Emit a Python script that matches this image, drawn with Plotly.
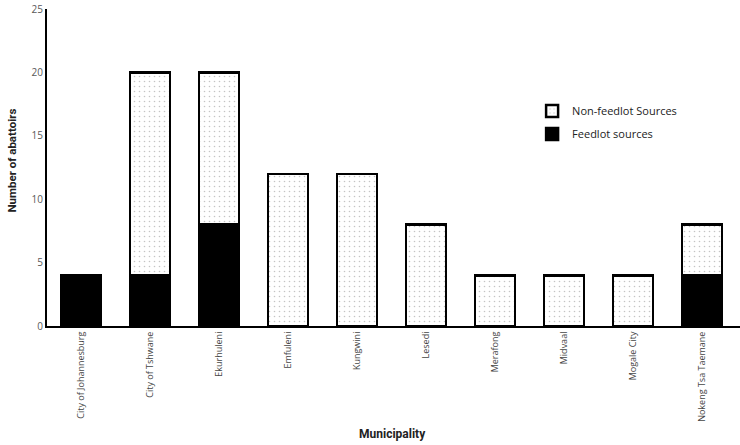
import plotly.graph_objects as go

municipalities = ["City of Johannesburg", "City of Tshwane", "Ekurhuleni", "Emfuleni", "Kungwini",
                  "Lesedi", "Merafong", "Midvaal", "Mogale City", "Nokeng Tsa Taemane"]
feedlot = [4, 4, 8, 0, 0, 0, 0, 0, 0, 4]
non_feedlot = [0, 16, 12, 12, 12, 8, 4, 4, 4, 4]
y_ticks = [0, 5, 10, 15, 20, 25]

fig = go.Figure()
fig.add_trace(go.Bar(
    x=municipalities, y=feedlot, name="Feedlot sources", legendrank=2, legendgroup="f",
    marker=dict(color="black", line=dict(color="black", width=2.5)),
    width=0.58,
))
fig.add_trace(go.Bar(
    x=municipalities, y=non_feedlot, name="Non-feedlot Sources", legendrank=1, legendgroup="n",
    marker=dict(color="white", line=dict(color="black", width=2.5),
                pattern=dict(shape=".", fgcolor="#8a8a8a", bgcolor="white", size=5, solidity=0.08)),
    width=0.58,
))

title_font = "Roboto, Open Sans, sans-serif"

fig.update_layout(
    barmode="stack",
    width=740, height=445,
    margin=dict(l=47, r=0, t=9, b=119),
    plot_bgcolor="white", paper_bgcolor="white",
    font=dict(family="Open Sans, Liberation Sans, sans-serif", color="#595959"),
    showlegend=True,
    legend=dict(x=0.70, y=0.724, xanchor="left", yanchor="top", traceorder="grouped",
                font=dict(size=11, color="#222"), bgcolor="rgba(0,0,0,0)", itemwidth=30,
                tracegroupgap=4),
    annotations=[
        dict(text="<b>Municipality</b>", x=0.499, xref="paper", y=0, yref="paper",
             yanchor="middle", xanchor="center", showarrow=False, yshift=-108,
             font=dict(size=12, color="#222", family=title_font)),
        dict(text="<b>Number of abattoirs</b>", x=0, xref="paper", y=0.5, yref="paper",
             xanchor="center", yanchor="middle", showarrow=False, xshift=-36, yshift=7,
             textangle=-90, font=dict(size=11.5, color="#222", family=title_font)),
    ],
)

fig.update_xaxes(
    range=[-0.493, 9.55], tickangle=-90, showline=True, linecolor="black", linewidth=2,
    tickfont=dict(size=9, color="#444"), ticks="", showgrid=False, automargin=False,
)
fig.update_yaxes(
    range=[0, 25], tickvals=y_ticks, showline=True, linecolor="black", linewidth=2,
    showgrid=False, zeroline=False, ticks="", tickfont=dict(size=10, color="#595959"),
    automargin=False,
)

fig.write_html("out.html", config={"displayModeBar": False},
               post_script="document.body.style.margin='0';")
